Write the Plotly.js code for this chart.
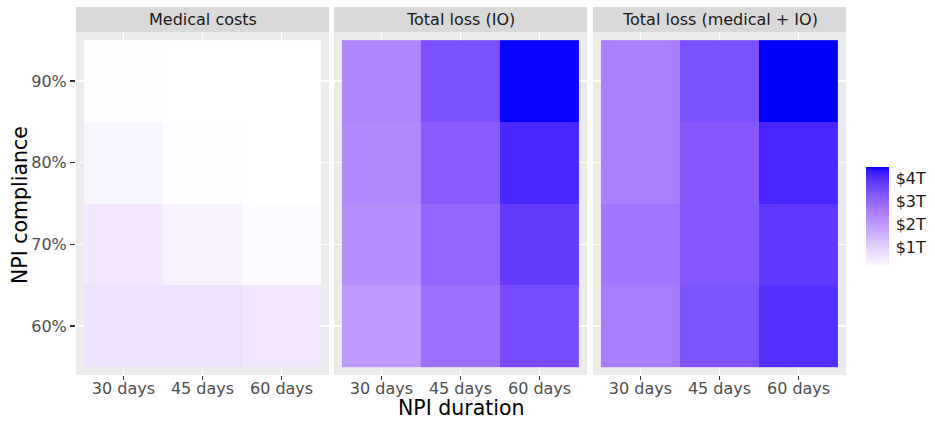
<!DOCTYPE html>
<html>
<head>
<meta charset="utf-8">
<script src="https://cdn.plot.ly/plotly-3.0.1.min.js"></script>
<style>html,body{margin:0;padding:0;background:#fff;}#chart{width:935px;height:422px;}</style>
</head>
<body>
<div id="chart"></div>
<script>
// ---- data (values in trillions of USD) ----
const durations = ["30 days", "45 days", "60 days"];
const compliance = ["60%", "70%", "80%", "90%"];
const panelTitles = ["Medical costs", "Total loss (IO)", "Total loss (medical + IO)"];
// rows follow `compliance`, columns follow `durations`
const medicalCosts = [
  [0.65, 0.65, 0.56],
  [0.52, 0.36, 0.15],
  [0.26, 0.14, 0.08],
  [0.12, 0.08, 0.08]
];
const totalLossIO = [
  [2.01, 2.79, 3.48],
  [2.21, 3.01, 3.81],
  [2.33, 3.21, 4.12],
  [2.40, 3.43, 4.48]
];
const totalLossMedIO = [
  [2.58, 3.37, 3.99],
  [2.72, 3.27, 3.87],
  [2.50, 3.24, 4.13],
  [2.50, 3.43, 4.50]
];
const legendTickVals = [1, 2, 3, 4];
const legendTickText = ["$1T", "$2T", "$3T", "$4T"];

// ---- white -> blue gradient interpolated in CIELAB (like ggplot2) ----
function toLin(c){c/=255;return c<=0.04045?c/12.92:Math.pow((c+0.055)/1.055,2.4);}
function toS(v){v=v<=0.0031308?12.92*v:1.055*Math.pow(v,1/2.4)-0.055;return Math.round(Math.max(0,Math.min(1,v))*255);}
const Xn=0.95047,Yn=1,Zn=1.08883;
function f(t){return t>0.008856?Math.cbrt(t):7.787*t+16/116;}
function finv(t){const t3=t*t*t;return t3>0.008856?t3:(t-16/116)/7.787;}
function rgb2lab(r,g,b){
  const R=toLin(r),G=toLin(g),B=toLin(b);
  const X=(0.4124*R+0.3576*G+0.1805*B)/Xn,Y=(0.2126*R+0.7152*G+0.0722*B)/Yn,Z=(0.0193*R+0.1192*G+0.9505*B)/Zn;
  const fx=f(X),fy=f(Y),fz=f(Z);
  return [116*fy-16,500*(fx-fy),200*(fy-fz)];
}
function lab2rgb(L,a,b){
  const fy=(L+16)/116,fx=fy+a/500,fz=fy-b/200;
  const X=finv(fx)*Xn,Y=finv(fy)*Yn,Z=finv(fz)*Zn;
  const R=3.2406*X-1.5372*Y-0.4986*Z,G=-0.9689*X+1.8758*Y+0.0415*Z,B=0.0557*X-0.2040*Y+1.0570*Z;
  return 'rgb('+toS(R)+','+toS(G)+','+toS(B)+')';
}
const lo=rgb2lab(255,255,255),hi=rgb2lab(0,0,255);
const colorscale=[];
for(let i=0;i<=40;i++){const t=i/40;colorscale.push([t,lab2rgb(lo[0]+(hi[0]-lo[0])*t,lo[1]+(hi[1]-lo[1])*t,lo[2]+(hi[2]-lo[2])*t)]);}

// ---- layout geometry (pixels) ----
const W=935,H=422;
const panelX=[[76,329],[334,587],[593,846]];
const panelTop=32,panelBottom=375,stripTop=7;
const px=x=>x/W, py=y=>1-y/H;

const font='DejaVu Sans, sans-serif';
const datasets=[medicalCosts,totalLossIO,totalLossMedIO];
const traces=datasets.map((z,i)=>({
  type:'heatmap',
  x:durations, y:compliance, z:z,
  coloraxis:'coloraxis',
  xaxis:i===0?'x':'x'+(i+1),
  yaxis:i===0?'y':'y'+(i+1),
  hoverongaps:false
}));

const layout={
  width:W,height:H,
  margin:{l:0,r:0,t:0,b:0},
  paper_bgcolor:'#ffffff',
  plot_bgcolor:'#EBEBEB',
  font:{family:font,color:'#4D4D4D'},
  showlegend:false,
  coloraxis:{
    colorscale:colorscale,
    colorbar:{
      x:px(866),xanchor:'left',
      y:py(217.5),yanchor:'middle',
      len:101,lenmode:'pixels',
      thickness:23,thicknessmode:'pixels',
      xpad:0,ypad:0,
      outlinewidth:0,
      tickvals:legendTickVals,ticktext:legendTickText,
      ticks:'outside',ticklen:4,tickcolor:'#ffffff',tickwidth:1,
      tickfont:{family:font,size:16,color:'#1A1A1A'}
    }
  },
  shapes:[],annotations:[]
};

panelX.forEach((p,i)=>{
  const xa=i===0?'xaxis':'xaxis'+(i+1);
  const ya=i===0?'yaxis':'yaxis'+(i+1);
  layout[xa]={
    domain:[px(p[0]),px(p[1])],
    anchor:i===0?'y':'y'+(i+1),
    type:'category',categoryorder:'array',categoryarray:durations,
    range:[-0.6,2.6],
    showgrid:true,gridcolor:'#ffffff',gridwidth:1.5,
    zeroline:false,showline:false,
    ticks:'outside',ticklen:4,tickwidth:1.4,tickcolor:'#333333',
    ticklabelstandoff:-5,
    tickfont:{family:font,size:16,color:'#4D4D4D'},
    fixedrange:true
  };
  layout[ya]={
    domain:[py(panelBottom),py(panelTop)],
    anchor:i===0?'x':'x'+(i+1),
    type:'category',categoryorder:'array',categoryarray:compliance,
    range:[-0.6,3.6],
    showgrid:true,gridcolor:'#ffffff',gridwidth:1.5,
    zeroline:false,showline:false,
    ticks:i===0?'outside':'',ticklen:5,tickwidth:1.4,tickcolor:'#333333',
    showticklabels:i===0,
    tickfont:{family:font,size:16,color:'#4D4D4D'},
    fixedrange:true
  };
  layout.shapes.push({type:'rect',xref:'paper',yref:'paper',
    x0:px(p[0]),x1:px(p[1]),y0:py(panelTop),y1:py(stripTop),
    fillcolor:'#D9D9D9',line:{width:0},layer:'below'});
  layout.annotations.push({xref:'paper',yref:'paper',
    x:px((p[0]+p[1])/2),y:py((panelTop+stripTop)/2),
    xanchor:'center',yanchor:'middle',showarrow:false,
    text:panelTitles[i],font:{family:font,size:16,color:'#1A1A1A'}});
});

layout.annotations.push({xref:'paper',yref:'paper',x:px(461),y:py(408),
  xanchor:'center',yanchor:'middle',showarrow:false,text:'NPI duration',
  font:{family:font,size:20.5,color:'#000000'}});
layout.annotations.push({xref:'paper',yref:'paper',x:px(20),y:py(205),
  xanchor:'center',yanchor:'middle',showarrow:false,text:'NPI compliance',textangle:-90,
  font:{family:font,size:20.5,color:'#000000'}});

Plotly.newPlot('chart',traces,layout,{staticPlot:true,displayModeBar:false});
</script>
</body>
</html>
